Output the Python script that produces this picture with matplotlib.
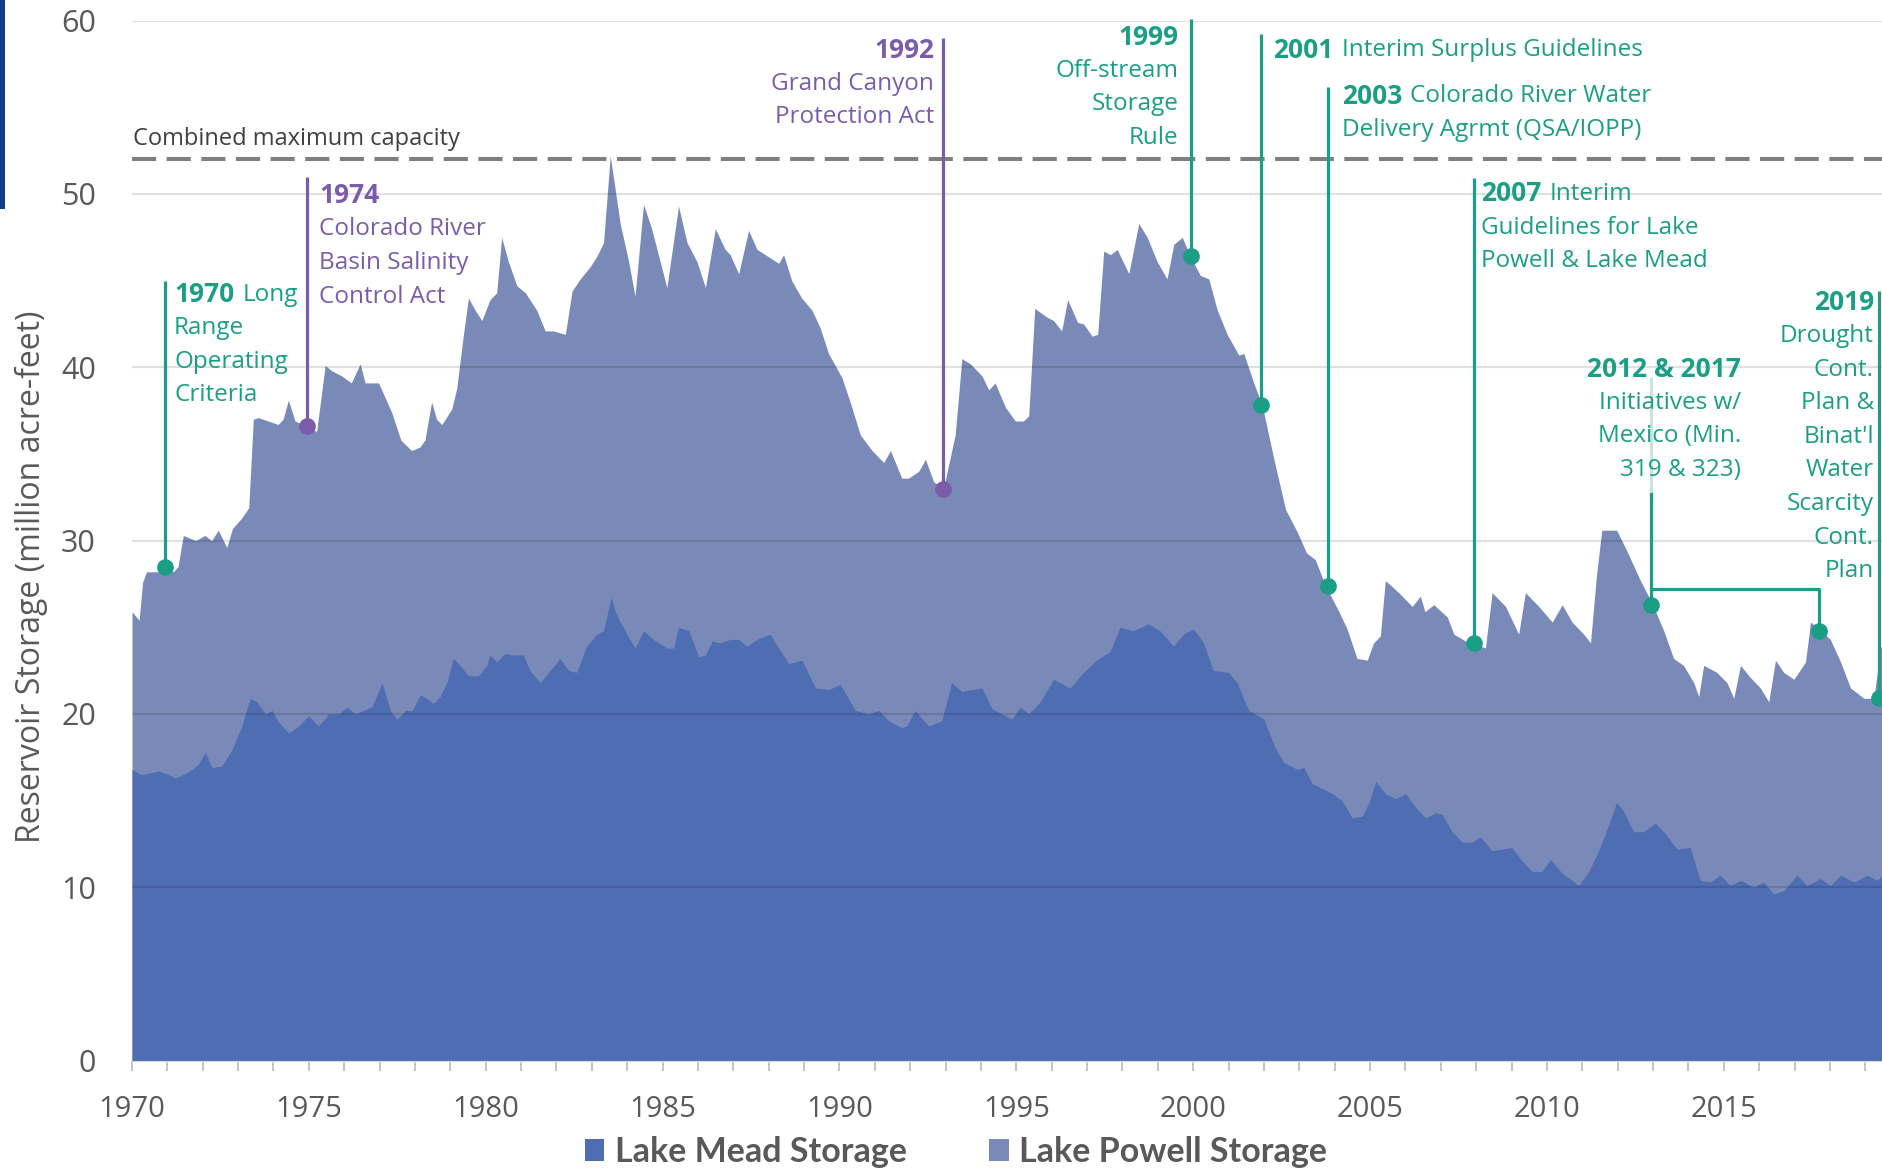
import numpy as np
import matplotlib
matplotlib.use('Agg')
import matplotlib.pyplot as plt
from matplotlib.patches import Patch, Rectangle
from matplotlib.font_manager import FontProperties

plt.rcParams['font.family'] = ['Open Sans', 'DejaVu Sans']

# combined storage (Lake Mead + Lake Powell), million acre-feet
total_years = [
    1970.00, 1970.20, 1970.30, 1970.41, 1970.75, 1970.93, 1971.17, 1971.30, 1971.45, 1971.80,
    1972.06, 1972.25, 1972.44, 1972.68, 1972.84, 1973.10, 1973.30, 1973.43, 1973.57, 1973.85,
    1974.13, 1974.27, 1974.42, 1974.61, 1974.94, 1975.22, 1975.46, 1975.65, 1975.93, 1976.20,
    1976.45, 1976.59, 1976.97, 1977.34, 1977.60, 1977.90, 1978.14, 1978.28, 1978.47, 1978.61,
    1978.76, 1979.04, 1979.18, 1979.37, 1979.51, 1979.70, 1979.89, 1980.12, 1980.31, 1980.45,
    1980.64, 1980.88, 1981.12, 1981.44, 1981.68, 1981.91, 1982.25, 1982.44, 1982.67, 1982.95,
    1983.14, 1983.33, 1983.52, 1983.80, 1984.04, 1984.22, 1984.46, 1984.69, 1985.12, 1985.45,
    1985.69, 1985.97, 1986.21, 1986.49, 1986.77, 1986.91, 1987.15, 1987.43, 1987.67, 1987.90,
    1988.28, 1988.42, 1988.65, 1988.93, 1989.22, 1989.45, 1989.69, 1990.07, 1990.30, 1990.59,
    1990.92, 1991.25, 1991.44, 1991.76, 1991.95, 1992.24, 1992.43, 1992.66, 1992.94, 1993.27,
    1993.46, 1993.70, 1994.03, 1994.22, 1994.40, 1994.69, 1994.97, 1995.20, 1995.35, 1995.52,
    1995.86, 1996.05, 1996.28, 1996.45, 1996.73, 1996.90, 1997.14, 1997.30, 1997.47, 1997.66,
    1997.85, 1998.18, 1998.46, 1998.70, 1998.98, 1999.26, 1999.45, 1999.69, 1999.92, 2000.20,
    2000.44, 2000.68, 2000.96, 2001.29, 2001.43, 2001.71, 2001.95, 2002.28, 2002.61, 2002.94,
    2003.20, 2003.45, 2003.74, 2004.12, 2004.35, 2004.63, 2004.92, 2005.10, 2005.29, 2005.43,
    2005.81, 2006.19, 2006.42, 2006.55, 2006.80, 2007.18, 2007.37, 2007.70, 2007.93, 2008.26,
    2008.45, 2008.83, 2009.20, 2009.39, 2009.77, 2010.15, 2010.43, 2010.71, 2011.04, 2011.23,
    2011.40, 2011.55, 2011.97, 2012.26, 2012.64, 2012.97, 2013.30, 2013.58, 2013.86, 2014.15,
    2014.29, 2014.43, 2014.80, 2015.09, 2015.28, 2015.47, 2015.75, 2016.03, 2016.27, 2016.46,
    2016.69, 2016.98, 2017.31, 2017.45, 2017.69, 2018.01, 2018.30, 2018.58, 2018.96, 2019.24,
    2019.43, 2019.50,
]
total_maf = [
    25.9, 25.4, 27.6, 28.2, 28.2, 28.5, 28.2, 28.5, 30.3, 30.0,
    30.3, 30.0, 30.6, 29.6, 30.7, 31.3, 31.9, 37.0, 37.1, 36.9,
    36.7, 37.0, 38.1, 36.9, 36.6, 36.3, 40.1, 39.8, 39.5, 39.1,
    40.2, 39.1, 39.1, 37.4, 35.8, 35.2, 35.4, 35.8, 38.0, 37.0,
    36.7, 37.6, 38.8, 41.9, 44.0, 43.3, 42.7, 43.9, 44.3, 47.5,
    46.1, 44.7, 44.3, 43.3, 42.1, 42.1, 41.9, 44.4, 45.1, 45.8,
    46.4, 47.2, 52.2, 48.3, 46.1, 44.1, 49.4, 48.0, 44.6, 49.3,
    47.2, 46.1, 44.6, 48.0, 46.8, 46.5, 45.4, 47.9, 46.8, 46.5,
    46.0, 46.5, 45.0, 44.0, 43.3, 42.3, 40.8, 39.4, 38.0, 36.1,
    35.2, 34.5, 35.2, 33.6, 33.6, 34.0, 34.7, 33.4, 33.0, 36.1,
    40.5, 40.2, 39.5, 38.7, 39.1, 37.7, 36.9, 36.9, 37.2, 43.4,
    42.9, 42.7, 42.1, 43.9, 42.6, 42.5, 41.8, 41.9, 46.7, 46.5,
    46.8, 45.4, 48.3, 47.5, 46.1, 45.1, 47.1, 47.5, 46.4, 45.3,
    45.1, 43.3, 41.9, 40.7, 40.8, 39.1, 37.8, 34.7, 31.8, 30.5,
    29.3, 28.9, 27.4, 25.9, 24.9, 23.2, 23.1, 24.1, 24.5, 27.7,
    27.0, 26.2, 26.8, 25.9, 26.3, 25.6, 24.6, 24.2, 24.1, 23.8,
    27.0, 26.2, 24.6, 27.0, 26.2, 25.3, 26.3, 25.3, 24.6, 24.1,
    28.0, 30.6, 30.6, 29.4, 27.7, 26.4, 24.8, 23.2, 22.8, 21.8,
    21.0, 22.8, 22.4, 21.8, 20.9, 22.8, 22.1, 21.5, 20.7, 23.1,
    22.4, 22.0, 23.0, 25.3, 24.9, 24.3, 23.0, 21.5, 20.9, 20.9,
    23.8, 24.1,
]

# Lake Mead storage, million acre-feet
mead_years = [
    1970.00, 1970.26, 1970.75, 1971.03, 1971.22, 1971.45, 1971.69, 1971.88, 1972.07, 1972.26,
    1972.54, 1972.82, 1973.10, 1973.34, 1973.53, 1973.77, 1973.96, 1974.15, 1974.43, 1974.71,
    1974.99, 1975.27, 1975.56, 1975.84, 1976.08, 1976.31, 1976.78, 1977.07, 1977.30, 1977.49,
    1977.73, 1977.92, 1978.15, 1978.33, 1978.52, 1978.71, 1978.90, 1979.08, 1979.27, 1979.51,
    1979.79, 1980.03, 1980.12, 1980.31, 1980.55, 1980.73, 1981.06, 1981.25, 1981.54, 1981.82,
    1982.10, 1982.34, 1982.57, 1982.85, 1983.14, 1983.33, 1983.54, 1983.70, 1983.99, 1984.22,
    1984.46, 1984.74, 1985.12, 1985.31, 1985.45, 1985.74, 1986.02, 1986.21, 1986.40, 1986.63,
    1986.91, 1987.15, 1987.38, 1987.67, 1988.04, 1988.28, 1988.56, 1988.94, 1989.32, 1989.69,
    1990.02, 1990.45, 1990.82, 1991.11, 1991.39, 1991.76, 1991.90, 1992.14, 1992.52, 1992.89,
    1993.17, 1993.46, 1993.74, 1994.03, 1994.31, 1994.59, 1994.88, 1995.11, 1995.35, 1995.68,
    1996.05, 1996.52, 1996.90, 1997.27, 1997.65, 1997.93, 1998.31, 1998.73, 1999.06, 1999.44,
    1999.72, 2000.01, 2000.29, 2000.57, 2001.00, 2001.24, 2001.57, 2002.00, 2002.28, 2002.56,
    2002.94, 2003.13, 2003.36, 2003.64, 2003.93, 2004.21, 2004.49, 2004.78, 2004.97, 2005.16,
    2005.44, 2005.72, 2006.00, 2006.29, 2006.57, 2006.85, 2007.04, 2007.32, 2007.60, 2007.89,
    2008.12, 2008.45, 2008.73, 2009.01, 2009.30, 2009.58, 2009.86, 2010.10, 2010.43, 2010.71,
    2010.90, 2011.18, 2011.46, 2011.62, 2011.97, 2012.16, 2012.45, 2012.73, 2013.06, 2013.30,
    2013.68, 2014.05, 2014.33, 2014.62, 2014.90, 2015.18, 2015.47, 2015.84, 2016.12, 2016.41,
    2016.69, 2017.07, 2017.35, 2017.73, 2018.01, 2018.30, 2018.68, 2019.05, 2019.33, 2019.50,
]
mead_maf = [
    16.8, 16.5, 16.7, 16.5, 16.3, 16.5, 16.8, 17.1, 17.8, 16.9,
    17.0, 17.9, 19.3, 20.9, 20.7, 20.0, 20.2, 19.5, 18.9, 19.3,
    19.9, 19.3, 20.0, 20.0, 20.4, 20.0, 20.4, 21.8, 20.2, 19.7,
    20.2, 20.2, 21.1, 20.9, 20.6, 21.0, 21.8, 23.2, 22.8, 22.2,
    22.2, 22.8, 23.4, 23.0, 23.5, 23.4, 23.4, 22.5, 21.8, 22.5,
    23.2, 22.5, 22.4, 23.9, 24.6, 24.8, 26.7, 25.7, 24.6, 23.8,
    24.8, 24.3, 23.8, 23.8, 25.0, 24.8, 23.3, 23.4, 24.2, 24.1,
    24.3, 24.3, 23.9, 24.3, 24.6, 23.8, 22.9, 23.1, 21.5, 21.4,
    21.7, 20.2, 20.0, 20.2, 19.6, 19.2, 19.3, 20.2, 19.3, 19.6,
    21.8, 21.3, 21.4, 21.5, 20.3, 20.0, 19.7, 20.4, 20.0, 20.7,
    22.0, 21.5, 22.4, 23.1, 23.6, 25.0, 24.8, 25.2, 24.8, 23.9,
    24.6, 24.9, 24.1, 22.5, 22.4, 21.8, 20.2, 19.7, 18.2, 17.2,
    16.8, 16.9, 16.0, 15.7, 15.4, 15.0, 14.0, 14.1, 14.9, 16.1,
    15.4, 15.1, 15.4, 14.6, 14.0, 14.3, 14.2, 13.2, 12.6, 12.6,
    12.9, 12.1, 12.2, 12.3, 11.5, 10.9, 10.9, 11.6, 10.8, 10.4,
    10.1, 10.9, 12.1, 12.9, 14.9, 14.4, 13.2, 13.2, 13.7, 13.2,
    12.2, 12.3, 10.4, 10.3, 10.7, 10.1, 10.4, 10.0, 10.3, 9.6,
    9.8, 10.7, 10.1, 10.5, 10.1, 10.7, 10.3, 10.7, 10.4, 10.7,
]

CAPACITY = 52.0
x_tick_years = list(range(1970, 2016, 5))
y_ticks = [0, 10, 20, 30, 40, 50, 60]

MEAD_C = '#4E6DB2'
POWELL_C = '#7A8AB8'
TEAL = '#1A9E86'
PURPLE = '#7B5CAA'
GREY_TXT = '#595959'
LINE_PT = 24.2
BOLD_FS = 19
REG_FS = 17.5

# events: (line x, storage at event, line top, colour)
events = [
    (1970.93, 28.5, 45.0, TEAL),
    (1974.94, 36.6, 51.0, PURPLE),
    (1992.94, 33.0, 59.0, PURPLE),
    (1999.95, 46.4, 60.1, TEAL),
    (2001.93, 37.8, 59.25, TEAL),
    (2003.80, 27.4, 56.2, TEAL),
    (2007.94, 24.1, 50.9, TEAL),
    (2019.38, 20.9, 44.4, TEAL),
]
minute_years = [2012.93, 2017.68]
minute_storage = [26.3, 24.8]

fig = plt.figure(figsize=(18.83, 11.69), dpi=100)
ax = fig.add_axes([0.0701, 0.0928, 0.9299, 0.8895])

ax.fill_between(total_years, 0, total_maf, color=POWELL_C, lw=0, zorder=1)
ax.fill_between(mead_years, 0, mead_maf, color=MEAD_C, lw=0, zorder=1.1)

for yv in y_ticks[1:]:
    ax.axhline(yv, color='black', alpha=0.12, lw=1.6, zorder=2)

ax.axhline(CAPACITY, color='#7F7F7F', lw=2.9, dashes=(6, 2.6), zorder=3)
ax.text(1970.02, 53.2, 'Combined maximum capacity', fontsize=17, color='#404040',
        ha='left', va='center')

ax.set_xlim(1970, 2019.5)
ax.set_ylim(0, 60)
for s in ['left', 'right', 'top']:
    ax.spines[s].set_visible(False)
ax.spines['bottom'].set_color('#D9D9D9')

ax.set_xticks(x_tick_years)
ax.set_xticks(np.arange(1970, 2020), minor=True)
ax.tick_params(axis='x', which='both', direction='out', length=7, width=1.3,
               color='#BFBFBF', pad=18, labelsize=21, labelcolor=GREY_TXT)
ax.set_yticks(y_ticks)
ax.tick_params(axis='y', length=0, pad=26, labelsize=22, labelcolor=GREY_TXT)

fig.text(31 / 1883, 0.5064, 'Reservoir Storage (million acre-feet)', rotation=90,
         fontsize=23, color=GREY_TXT, ha='center', va='center')

# event lines and markers
for x, yv, top, c in events:
    ax.plot([x, x], [yv, top], color=c, lw=2.3, zorder=4, clip_on=False,
            solid_capstyle='butt')
    ax.plot(x, yv, 'o', ms=11, color=c, zorder=5, clip_on=False)

# 2012 & 2017 minutes: bracket
ax.plot([minute_years[0]] * 2, [39.3, 32.7], color=TEAL, lw=2.3, alpha=0.25, zorder=4)
ax.plot([minute_years[0], minute_years[0], minute_years[1], minute_years[1]],
        [32.7, 27.2, 27.2, minute_storage[1]], color=TEAL, lw=2.3, zorder=4)
ax.plot([minute_years[0], minute_years[0]], [27.2, minute_storage[0]], color=TEAL, lw=2.3, zorder=4)
ax.plot(minute_years, minute_storage, 'o', ms=11, color=TEAL, zorder=5)

renderer = fig.canvas.get_renderer()


def label_block(x, y, head, rest, lines, color, ha='left'):
    t = ax.annotate(head, xy=(x, y), xytext=(0, 0), textcoords='offset points',
                    ha=ha, va='center', fontsize=BOLD_FS, fontweight='bold',
                    color=color, zorder=6, annotation_clip=False)
    if rest:
        w = t.get_window_extent(renderer).width * 72 / fig.dpi
        ax.annotate(rest, xy=(x, y), xytext=(w + 6, 0), textcoords='offset points',
                    ha='left', va='center', fontsize=REG_FS, color=color, zorder=6,
                    annotation_clip=False)
    for i, line in enumerate(lines, 1):
        ax.annotate(line, xy=(x, y), xytext=(0, -i * LINE_PT), textcoords='offset points',
                    ha=ha, va='center', fontsize=REG_FS, color=color, zorder=6,
                    annotation_clip=False)


label_block(1971.19, 44.2, '1970', 'Long', ['Range', 'Operating', 'Criteria'], TEAL)
label_block(1975.30, 49.9, '1974', '', ['Colorado River', 'Basin Salinity', 'Control Act'], PURPLE)
label_block(1992.68, 58.3, '1992', '', ['Grand Canyon', 'Protection Act'], PURPLE, ha='right')
label_block(1999.58, 59.05, '1999', '', ['Off-stream', 'Storage', 'Rule'], TEAL, ha='right')
label_block(2002.27, 58.3, '2001', 'Interim Surplus Guidelines', [], TEAL)
label_block(2004.20, 55.65, '2003', 'Colorado River Water', ['Delivery Agrmt (QSA/IOPP)'], TEAL)
label_block(2008.14, 50.0, '2007', 'Interim', ['Guidelines for Lake', 'Powell & Lake Mead'], TEAL)
label_block(2015.48, 39.9, '2012 & 2017', '', ['Initiatives w/', 'Mexico (Min.', '319 & 323)'],
            TEAL, ha='right')
label_block(2019.24, 43.75, '2019', '', ['Drought', 'Cont.', 'Plan &', "Binat'l", 'Water',
                                         'Scarcity', 'Cont.', 'Plan'], TEAL, ha='right')

handles = [Patch(facecolor=MEAD_C, label='Lake Mead Storage'),
           Patch(facecolor=POWELL_C, label='Lake Powell Storage')]
fig.legend(handles=handles, loc='center', bbox_to_anchor=(0.5077, 0.0145), ncol=2,
           frameon=False, labelcolor=GREY_TXT,
           prop=FontProperties(family=['Lato', 'Open Sans'], weight='bold', size=24.5),
           handlelength=0.58, handleheight=0.58, handletextpad=0.32, columnspacing=2.4)

# slide edge accent, top left
fig.add_artist(Rectangle((0, 1 - 209 / 1169), 5 / 1883, 209 / 1169,
                         transform=fig.transFigure, color='#0F3E8C', lw=0))

fig.savefig('out.png', dpi=100)
